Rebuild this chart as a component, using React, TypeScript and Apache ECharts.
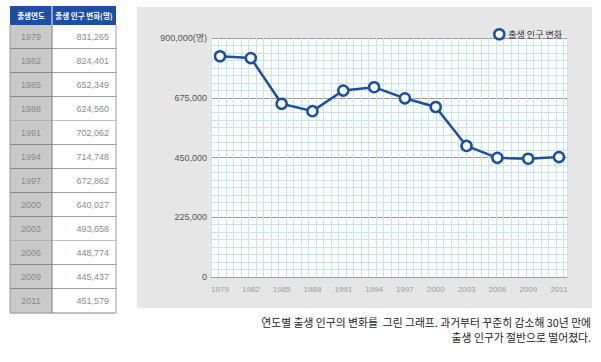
import React, { useEffect, useRef } from 'react';
import * as echarts from 'echarts';

const years = ['1979', '1982', '1985', '1988', '1991', '1994', '1997', '2000', '2003', '2006', '2009', '2011'];
const births = [831265, 824401, 652349, 624560, 702062, 714748, 672862, 640027, 493658, 448774, 445437, 451579];
const tableHeaders = ['출생연도', '출생 인구 변화(명)'];
const seriesName = '출생 인구 변화';
const yMax = 900000;
const yStep = 225000;
const unitLabel = '(명)';
const captionLines = [
  '연도별 출생 인구의 변화를  그린 그래프. 과거부터 꾸준히 감소해 30년 만에',
  '출생 인구가 절반으로 떨어졌다.',
];

const FONT = "'Liberation Sans', 'Noto Sans CJK KR', sans-serif";
const KFONT = "'Noto Sans CJK KR', 'Liberation Sans', sans-serif";
const BLUE = '#1c4f9c';
const GRIDBLUE = '#c6e3f2';
const fmt = (v: number) => v.toLocaleString('en-US');

function buildTable(): any[] {
  const els: any[] = [];
  const x0 = 10, xMid = 52, x1 = 116, yHead = 6, hHead = 19, rowH = 24;
  els.push({ type: 'rect', shape: { x: x0, y: yHead, width: x1 - x0, height: hHead }, style: { fill: '#1d4ea1' } });
  els.push({ type: 'line', shape: { x1: xMid, y1: yHead, x2: xMid, y2: yHead + hHead }, style: { stroke: '#ffffff', lineWidth: 1 } });
  els.push({ type: 'text', style: { text: tableHeaders[0], x: (x0 + xMid) / 2, y: yHead + hHead / 2, align: 'center', verticalAlign: 'middle', fontSize: 7.5, fontWeight: 'bold', fill: '#fff', fontFamily: KFONT } });
  els.push({ type: 'text', style: { text: tableHeaders[1], x: (xMid + x1) / 2, y: yHead + hHead / 2, align: 'center', verticalAlign: 'middle', fontSize: 7.5, fontWeight: 'bold', fill: '#fff', fontFamily: KFONT } });
  const top = yHead + hHead;
  years.forEach((yr, i) => {
    const y = top + i * rowH;
    els.push({ type: 'rect', shape: { x: x0, y, width: xMid - x0, height: rowH }, style: { fill: '#c9c9c9' } });
    els.push({ type: 'rect', shape: { x: xMid, y, width: x1 - xMid, height: rowH }, style: { fill: '#ffffff' } });
    els.push({ type: 'text', style: { text: yr, x: (x0 + xMid) / 2, y: y + rowH / 2, align: 'center', verticalAlign: 'middle', fontSize: 9, fill: '#8a8a8a', fontFamily: FONT } });
    els.push({ type: 'text', style: { text: fmt(births[i]), x: x1 - 7, y: y + rowH / 2, align: 'right', verticalAlign: 'middle', fontSize: 9, fill: '#8a8a8a', fontFamily: FONT } });
    const light = i === 3 || i === 8 || i === years.length - 1;
    els.push({ type: 'line', shape: { x1: x0, y1: y + rowH, x2: x1, y2: y + rowH }, style: { stroke: light ? '#aaaaaa' : '#444444', lineWidth: light ? 1.5 : 1 } });
  });
  const bottom = top + years.length * rowH;
  els.push({ type: 'line', shape: { x1: xMid, y1: top, x2: xMid, y2: bottom }, style: { stroke: '#7a7a7a', lineWidth: 1 } });
  els.push({ type: 'line', shape: { x1: x1, y1: top, x2: x1, y2: bottom }, style: { stroke: '#9a9a9a', lineWidth: 1 } });
  els.push({ type: 'line', shape: { x1: x0, y1: top, x2: x0, y2: bottom }, style: { stroke: '#9a9a9a', lineWidth: 1 } });
  return els;
}

export default function App() {
  const ref = useRef<HTMLDivElement>(null);
  useEffect(() => {
    if (!ref.current) return;
    const chart = echarts.init(ref.current, null, { renderer: 'svg' });
    const option: any = {
      animation: false,
      backgroundColor: '#ffffff',
      textStyle: { fontFamily: FONT },
      graphic: [
        { type: 'rect', z: -100, shape: { x: 137, y: 7, width: 455, height: 301 }, style: { fill: '#e6e6e7' } },
        ...buildTable(),
        ...captionLines.map((t, i) => ({
          type: 'text',
          style: { text: t, x: 591, y: 322 + i * 15, align: 'right', verticalAlign: 'middle', fontSize: 10.8, fill: '#222', fontFamily: KFONT },
        })),
      ],
      legend: {
        data: [
          {
            name: seriesName,
            icon: 'circle',
            itemStyle: { color: '#ffffff', borderColor: BLUE, borderWidth: 2.5 },
          },
        ],
        right: 34,
        top: 23,
        itemWidth: 10,
        itemHeight: 10,
        itemGap: 4,
        itemStyle: { color: '#ffffff', borderColor: BLUE, borderWidth: 2.5 },
        lineStyle: { width: 0 },
        textStyle: { fontSize: 9, color: '#333', fontFamily: KFONT, padding: [0, 0, 0, -1] },
      },
      grid: [
        { left: 220, width: 339, top: 38, height: 239 },
        { left: 211, width: 356, top: 38, height: 239, show: true, backgroundColor: '#ffffff', borderWidth: 0 },
      ],
      xAxis: [
        {
          type: 'category',
          gridIndex: 0,
          data: years,
          boundaryGap: false,
          axisLine: { show: false },
          axisTick: { show: false },
          axisLabel: { color: '#9a9a9a', fontSize: 8, margin: 8, fontFamily: FONT },
          splitLine: { show: false },
        },
        {
          type: 'value',
          gridIndex: 1,
          min: 0,
          max: 356,
          interval: 7.5,
          axisLine: { show: true, lineStyle: { color: '#a0a0a0', width: 1 } },
          axisTick: { show: false },
          axisLabel: { show: false },
          splitLine: { show: true, lineStyle: { color: GRIDBLUE, width: 1 } },
        },
      ],
      yAxis: [
        { type: 'value', gridIndex: 0, min: 0, max: yMax, show: false },
        {
          type: 'value',
          gridIndex: 1,
          min: 0,
          max: yMax,
          interval: yStep,
          axisLine: { show: false },
          axisTick: { show: false },
          axisLabel: {
            color: '#555',
            fontSize: 9,
            margin: 4,
            fontFamily: FONT,
            formatter: (v: number) => (v === yMax ? fmt(v) + unitLabel : fmt(v)),
          },
          splitLine: { show: true, lineStyle: { color: '#9a9a9a', width: 1 } },
          minorTick: { show: false, splitNumber: 8 },
          minorSplitLine: { show: true, lineStyle: { color: GRIDBLUE, width: 1 } },
        },
      ],
      series: [
        {
          name: seriesName,
          type: 'line',
          xAxisIndex: 0,
          yAxisIndex: 0,
          data: births,
          symbol: 'circle',
          symbolSize: 10,
          z: 10,
          lineStyle: { color: BLUE, width: 2.5 },
          itemStyle: { color: '#ffffff', borderColor: BLUE, borderWidth: 2.5 },
        },
      ],
    };
    chart.setOption(option);
    return () => chart.dispose();
  }, []);
  return (
    <div style={{ position: 'absolute', left: 0, top: 0, width: 601, height: 362 }}>
      <div ref={ref} style={{ width: 601, height: 362 }} />
    </div>
  );
}
